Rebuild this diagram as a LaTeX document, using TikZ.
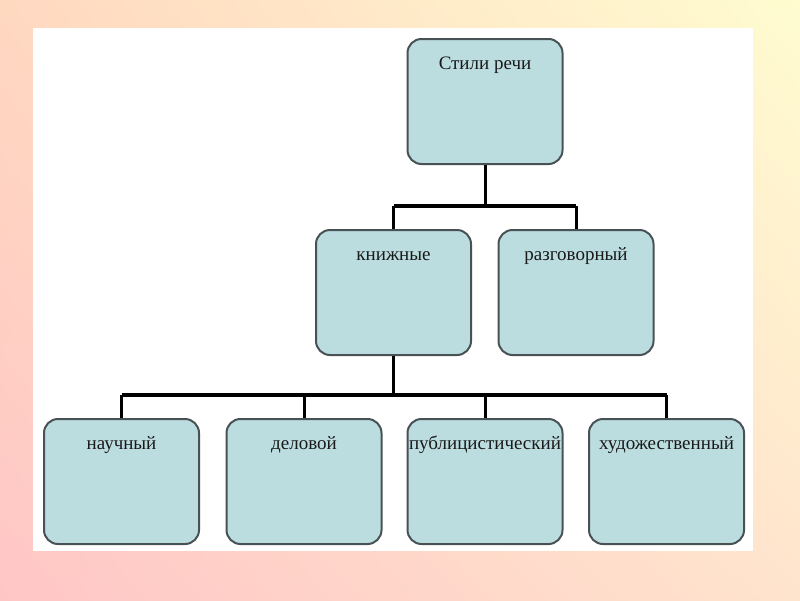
\documentclass[tikz,border=0pt]{standalone}
\usepackage{fontspec}
\setmainfont{Liberation Serif}
\usetikzlibrary{shadings}
\definecolor{boxfill}{RGB}{188,221,224}
\definecolor{boxline}{RGB}{72,82,84}
\definecolor{bgTL}{RGB}{255,216,192}
\definecolor{bgTR}{RGB}{255,252,208}
\definecolor{bgBL}{RGB}{255,198,198}
\definecolor{bgBR}{RGB}{255,228,205}
\begin{document}
\begin{tikzpicture}[x=1pt,y=-1pt,
  stylebox/.style={draw=boxline, line width=2pt, fill=boxfill, rounded corners=14pt,
    minimum width=155pt, inner xsep=1pt, inner ysep=0pt,
    text height=30pt, text depth=95pt, font=\fontsize{19}{21}\selectfont, text=black!90},
  bar/.style={line width=4.5pt, black},
  stem/.style={line width=3pt, black}]
\useasboundingbox (0pt,0pt) rectangle (800pt,-600pt);
\shade[upper left=bgTL, upper right=bgTR, lower left=bgBL, lower right=bgBR]
  (0pt,0pt) rectangle (800pt,-600pt);
\fill[white] (33,28) rectangle (753,551);

\node[stylebox] (top) at (485,38) [anchor=north] {Стили речи};
\node[stylebox] (kn) at (393.5,229) [anchor=north] {книжные};
\node[stylebox] (rz) at (576,229) [anchor=north] {разговорный};
\node[stylebox] (na) at (121.5,418) [anchor=north] {научный};
\node[stylebox] (de) at (304,418) [anchor=north] {деловой};
\node[stylebox] (pu) at (485,418) [anchor=north] {публицистический};
\node[stylebox] (hu) at (666.5,418) [anchor=north] {художественный};

\coordinate (j1) at (485,206);
\coordinate (j2) at (393.5,395);

\draw[stem] (top.south) -- (j1);
\draw[bar] (kn.north |- j1) -- (rz.north |- j1);
\draw[stem] (kn.north |- j1) -- (kn.north);
\draw[stem] (rz.north |- j1) -- (rz.north);

\draw[stem] (kn.south) -- (j2);
\draw[bar] (na.north |- j2) -- (hu.north |- j2);
\draw[stem] (na.north |- j2) -- (na.north);
\draw[stem] (de.north |- j2) -- (de.north);
\draw[stem] (pu.north |- j2) -- (pu.north);
\draw[stem] (hu.north |- j2) -- (hu.north);
\end{tikzpicture}
\end{document}
